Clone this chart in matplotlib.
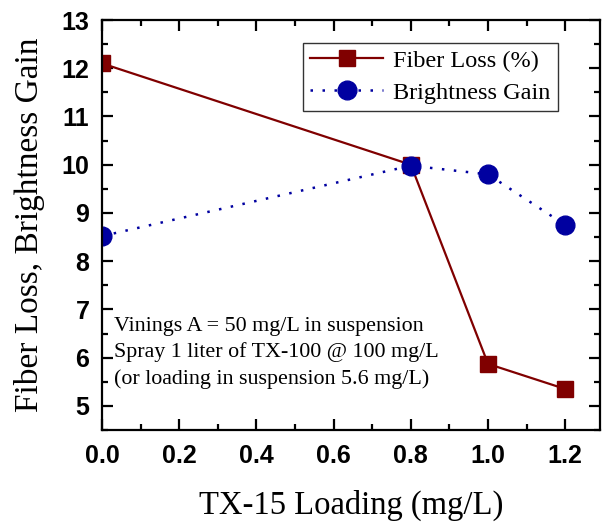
import matplotlib
matplotlib.use("Agg")
import matplotlib.pyplot as plt
from matplotlib.ticker import MultipleLocator

loading = [0.0, 0.8, 1.0, 1.2]
fiber_loss = [12.1, 10.0, 5.87, 5.35]
brightness_gain = [8.52, 9.98, 9.8, 8.75]

fig = plt.figure(figsize=(6.04, 5.25), dpi=100)
ax = fig.add_axes([102/604, 1 - 430/525, 498/604, 410/525])

ax.plot(loading, fiber_loss, color="#800000", lw=1.6, marker="s", ms=11,
        label="Fiber Loss (%)")
ax.plot(loading, brightness_gain, color="#0000A0", lw=1.8, ls=(0, (1, 3.8)),
        marker="o", ms=13.5, label="Brightness Gain")

ax.set_xlim(0, 1.29)
ax.set_ylim(4.5, 13)
ax.xaxis.set_major_locator(MultipleLocator(0.2))
ax.xaxis.set_minor_locator(MultipleLocator(0.1))
ax.yaxis.set_major_locator(MultipleLocator(1))
ax.yaxis.set_minor_locator(MultipleLocator(0.5))
ax.tick_params(which="both", direction="in", top=True, right=True, width=1.6)
ax.tick_params(which="major", length=8, labelsize=18)
ax.tick_params(axis="x", which="major", pad=10)
ax.tick_params(axis="y", which="major", pad=9)
ax.tick_params(which="minor", length=4)
for lab in ax.get_xticklabels() + ax.get_yticklabels():
    lab.set_fontweight("bold")
    lab.set_family("Liberation Sans")
for s in ax.spines.values():
    s.set_linewidth(1.6)

ax.set_xlabel("TX-15 Loading (mg/L)", family="Liberation Serif", fontsize=23.5, labelpad=16)
ax.set_ylabel("Fiber Loss, Brightness Gain", family="Liberation Serif", fontsize=24, labelpad=12)

ax.text(0.031, 6.10, "Vinings A = 50 mg/L in suspension\nSpray 1 liter of TX-100 @ 100 mg/L\n(or loading in suspension 5.6 mg/L)",
        family="Liberation Serif", fontsize=15.8, linespacing=1.45, va="center")

leg = ax.legend(loc="upper right", bbox_to_anchor=(0.915, 0.945), prop={"family": "Liberation Serif", "size": 17.5},
                frameon=True, fancybox=False, edgecolor="black", handlelength=3.0,
                borderpad=0.3, labelspacing=0.4, handletextpad=0.4, borderaxespad=0)
leg.get_frame().set_linewidth(1.0)

fig.savefig("out.png", dpi=100)
